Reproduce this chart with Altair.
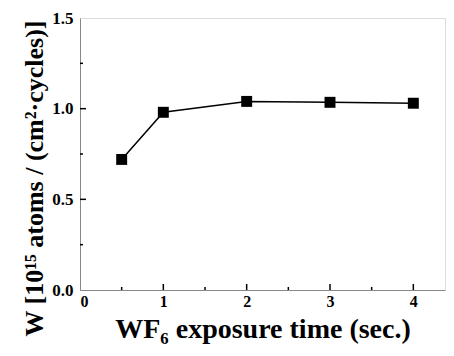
import altair as alt
import pandas as pd

exposure = [0.5, 1, 2, 3, 4]
growth = [0.72, 0.98, 1.04, 1.035, 1.03]

x_major = [0, 1, 2, 3, 4]
x_minor = [0.5, 1.5, 2.5, 3.5]
y_major = [0.0, 0.5, 1.0, 1.5]
y_minor = [0.25, 0.75, 1.25]

W, H = 365, 272
FONT = "Liberation Serif, DejaVu Serif, serif"

df = pd.DataFrame({"t": exposure, "w": growth})
xs = alt.Scale(domain=[0, 4.38], nice=False)
ys = alt.Scale(domain=[0, 1.5], nice=False)

xax = alt.Axis(values=x_major, format="d", tickSize=0, labelPadding=3, grid=False,
               title="WF\u2086 exposure time (sec.)", titleFontSize=28, titlePadding=6,
               labelFontSize=16, labelFontWeight="bold", titleFontWeight="bold",
               labelFont=FONT, titleFont=FONT)
yax = alt.Axis(values=y_major, format=".1f", tickSize=0, labelPadding=7, grid=False,
               title="W [10\u00b9\u2075 atoms / (cm\u00b2\u00b7cycles)]", titleFontSize=26,
               titlePadding=4, titleY=160,
               labelFontSize=17, labelFontWeight="bold", titleFontWeight="bold",
               labelFont=FONT, titleFont=FONT)

line = alt.Chart(df).mark_line(color="black", strokeWidth=1.5).encode(
    x=alt.X("t:Q", scale=xs, axis=xax),
    y=alt.Y("w:Q", scale=ys, axis=yax),
)
pts = alt.Chart(df).mark_square(size=120, color="black", opacity=1).encode(
    x=alt.X("t:Q", scale=xs), y=alt.Y("w:Q", scale=ys)
)

xticks_major = alt.Chart(pd.DataFrame({"v": x_major[1:]})).mark_rule(color="black", strokeWidth=1.5).encode(
    x=alt.X("v:Q", scale=xs), y=alt.value(H), y2=alt.value(H - 6))
xticks_minor = alt.Chart(pd.DataFrame({"v": x_minor})).mark_rule(color="black", strokeWidth=1.5).encode(
    x=alt.X("v:Q", scale=xs), y=alt.value(H), y2=alt.value(H - 3))
yticks_major = alt.Chart(pd.DataFrame({"v": y_major[1:3]})).mark_rule(color="black", strokeWidth=1.5).encode(
    y=alt.Y("v:Q", scale=ys), x=alt.value(0), x2=alt.value(6))
yticks_minor = alt.Chart(pd.DataFrame({"v": y_minor})).mark_rule(color="black", strokeWidth=1.5).encode(
    y=alt.Y("v:Q", scale=ys), x=alt.value(0), x2=alt.value(3))

chart = alt.layer(xticks_major, xticks_minor, yticks_major, yticks_minor, line, pts).properties(
    width=W, height=H,
    padding={"left": 72, "top": 10, "right": 1, "bottom": 58},
    autosize=alt.AutoSizeParams(type="none"),
).configure_view(stroke="black", strokeWidth=2).configure_axis(
    domainColor="black", domainWidth=2, labelColor="black", titleColor="black",
).configure(background="white")

chart.save("out.html", embed_options={"renderer": "svg", "actions": False})
